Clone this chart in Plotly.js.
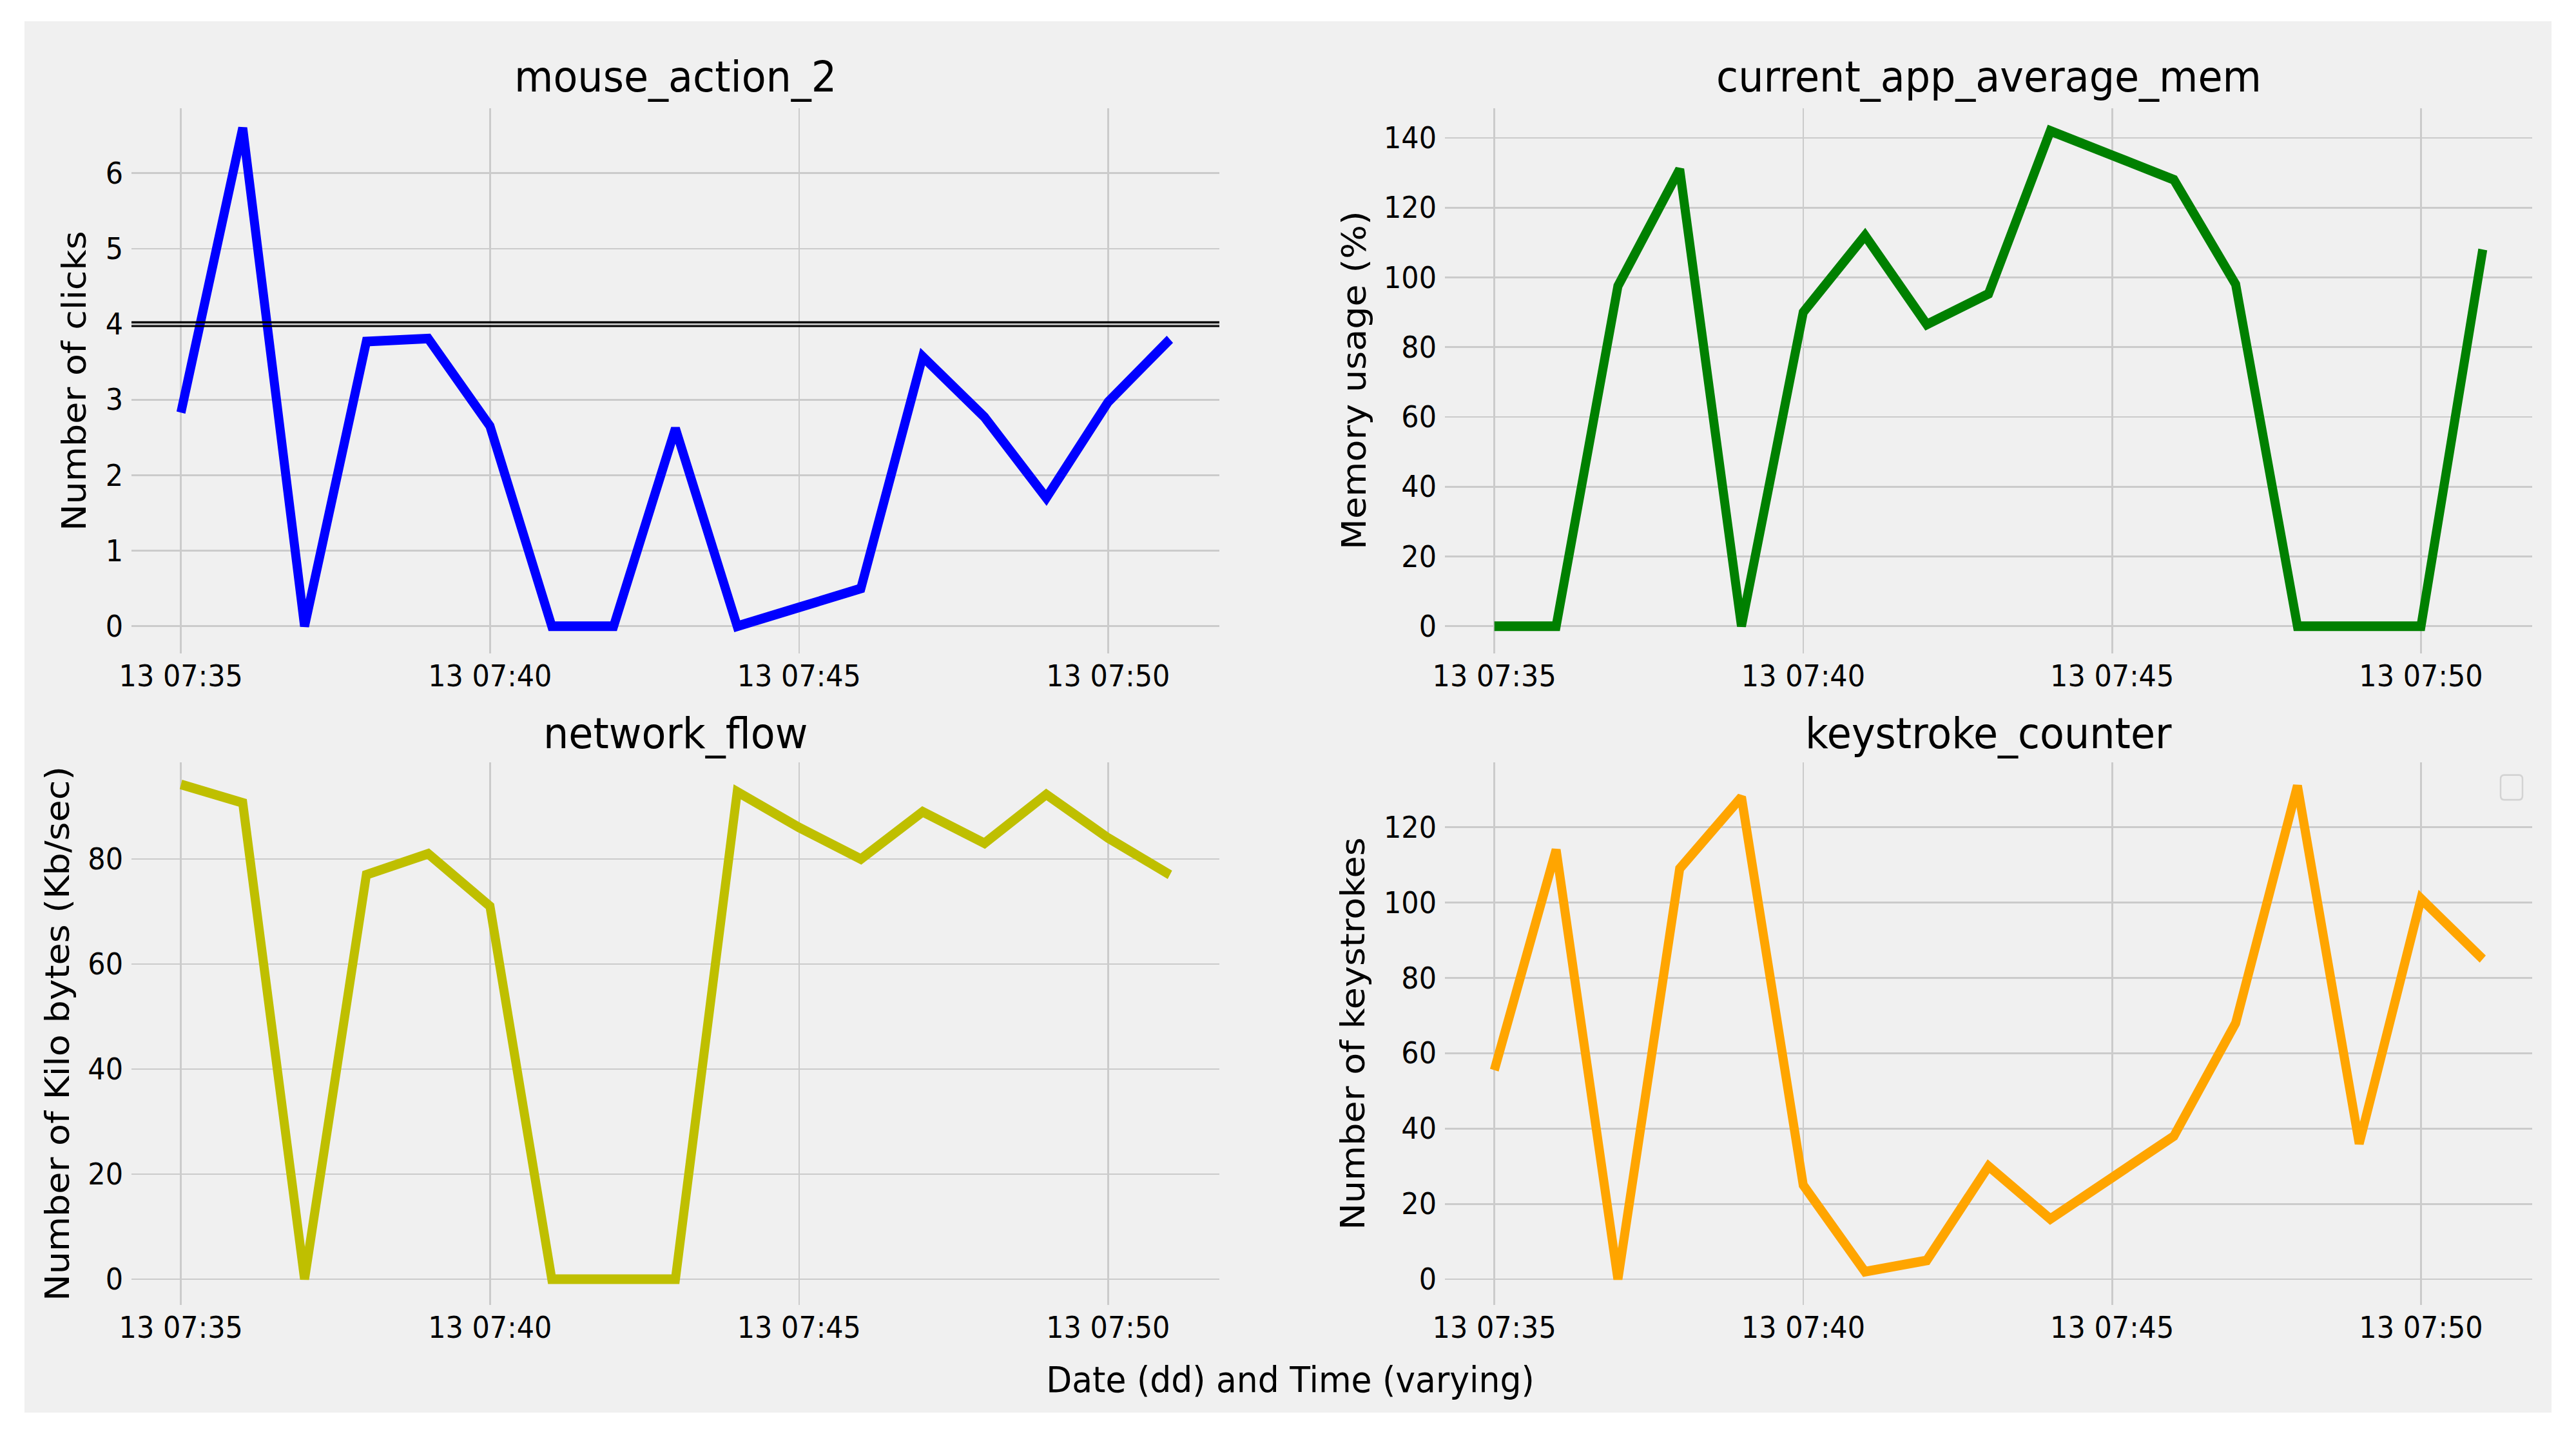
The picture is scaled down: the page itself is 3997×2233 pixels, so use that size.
<!DOCTYPE html>
<html>
<head>
<meta charset="utf-8">
<script src="https://cdn.plot.ly/plotly-3.0.1.min.js"></script>
<style>
  html, body { margin: 0; padding: 0; background: #ffffff; overflow: hidden; }
  /* the reference is a little stretched vertically, so draw short and scale up */
  #wrap { width: 3997px; height: 2233px; overflow: hidden; }
  #plot { width: 3997px; height: 2087px; transform: scale(1, 1.06996); transform-origin: 0 0; }
</style>
</head>
<body>
<div id="wrap"><div id="plot"></div></div>
<script>
/* Data */
let times = [
  "2023-01-13 07:35", "2023-01-13 07:36", "2023-01-13 07:37", "2023-01-13 07:38",
  "2023-01-13 07:39", "2023-01-13 07:40", "2023-01-13 07:41", "2023-01-13 07:42",
  "2023-01-13 07:43", "2023-01-13 07:44", "2023-01-13 07:45", "2023-01-13 07:46",
  "2023-01-13 07:47", "2023-01-13 07:48", "2023-01-13 07:49", "2023-01-13 07:50",
  "2023-01-13 07:51"
];
let mouseClicks = [2.83, 6.6, 0, 3.77, 3.81, 2.65, 0, 0, 2.62, 0, 0.25, 0.5, 3.57, 2.77, 1.7, 2.97, 3.8];
let mouseRefLines = [3.975, 4.025];
let memUsage = [0, 0, 97.5, 131, 0, 90, 112, 86.5, 95.3, 142, 135, 128, 98, 0, 0, 0, 108];
let netFlow = [94.2, 90.7, 0, 77, 81, 71, 0, 0, 0, 92.8, 86, 80, 89, 83, 92.3, 84, 77];
let keystrokes = [55.5, 114, 0, 109, 128, 25, 2, 5, 30, 16, 27, 38, 68, 131, 36, 101, 85];

let tickVals = ["2023-01-13 07:35", "2023-01-13 07:40", "2023-01-13 07:45", "2023-01-13 07:50"];
let tickText = ["13 07:35", "13 07:40", "13 07:45", "13 07:50"];
let xRange = ["2023-01-13 07:34:12", "2023-01-13 07:51:48"];

let panelTitles = ["mouse_action_2", "current_app_average_mem", "network_flow", "keystroke_counter"];
let yLabels = ["Number of clicks", "Memory usage (%)", "Number of Kilo bytes (Kb/sec)", "Number of keystrokes"];
let xLabel = "Date (dd) and Time (varying)";

const FONT = "DejaVu Sans";
const BG = "#f0f0f0";
const GRID = "#cbcbcb";

// Common axis styling (fivethirtyeight-like: grid, no spines, no ticks)
function xAxis(domain, anchor) {
  return {
    domain: domain, anchor: anchor, type: "date", range: xRange,
    tickvals: tickVals, ticktext: tickText,
    showgrid: true, gridcolor: GRID, gridwidth: 2.6,
    zeroline: false, showline: false, ticks: "",
    ticklabelstandoff: 4,
    tickfont: { family: FONT, size: 43, color: "#000" }
  };
}

function yAxis(domain, anchor, range, dtick) {
  return {
    domain: domain, anchor: anchor, range: range, dtick: dtick, tick0: 0,
    showgrid: true, gridcolor: GRID, gridwidth: 2.5,
    zeroline: false, showline: false, ticks: "",
    ticklabelstandoff: 12,
    tickfont: { family: FONT, size: 43, color: "#000" }
  };
}

function init() {
  let lineW = 14;
  let traces = [
    { x: times, y: mouseClicks, xaxis: "x", yaxis: "y", mode: "lines",
      line: { color: "#0000ff", width: lineW } },
    { x: times, y: memUsage, xaxis: "x2", yaxis: "y2", mode: "lines",
      line: { color: "#008000", width: lineW } },
    { x: times, y: netFlow, xaxis: "x3", yaxis: "y3", mode: "lines",
      line: { color: "#bfbf00", width: lineW } },
    { x: times, y: keystrokes, xaxis: "x4", yaxis: "y4", mode: "lines",
      line: { color: "#ffa500", width: lineW } }
  ];

  // axes placement (fractions of the drawing area)
  let xl = [0.05104, 0.47335], xr = [0.56092, 0.98299];
  let yt = [0.5459, 0.9248], yb = [0.0932, 0.4702];

  let shapes = [
    // light grey figure background with a thin white border
    { type: "rect", xref: "paper", yref: "paper", x0: 0.00951, x1: 0.99049, y0: 0.01835, y1: 0.98524,
      fillcolor: BG, line: { width: 0 }, layer: "below" },
    // empty legend frame in the last panel
    { type: "path", xref: "paper", yref: "paper", xsizemode: "pixel", ysizemode: "pixel",
      xanchor: 0.97073, yanchor: 0.44422,
      path: "M 6,0 L 28,0 Q 34,0 34,6 L 34,30 Q 34,36 28,36 L 6,36 Q 0,36 0,30 L 0,6 Q 0,0 6,0 Z",
      line: { color: "#d3d3d3", width: 2.5 }, fillcolor: "rgba(0,0,0,0)" }
  ];
  // two black reference lines in the first panel
  mouseRefLines.forEach(function(v) {
    shapes.push({ type: "line", xref: "x domain", yref: "y", x0: 0, x1: 1, y0: v, y1: v,
      line: { color: "#000", width: 3 } });
  });

  let annotations = [];
  let titleX = [0.2622, 0.77196, 0.2622, 0.77196];
  let titleY = [0.9465, 0.9465, 0.4904, 0.4904];
  panelTitles.forEach(function(t, i) {
    annotations.push({ text: t, xref: "paper", yref: "paper", x: titleX[i], y: titleY[i],
      xanchor: "center", yanchor: "middle", showarrow: false,
      font: { family: FONT, size: 62, color: "#000" } });
  });
  let labX = [0.02877, 0.52565, 0.02227, 0.52515];
  let labY = [0.7354, 0.7354, 0.2817, 0.2817];
  yLabels.forEach(function(t, i) {
    annotations.push({ text: t, xref: "paper", yref: "paper", x: labX[i], y: labY[i],
      xanchor: "center", yanchor: "middle", textangle: -90, showarrow: false,
      font: { family: FONT, size: 52, color: "#000" } });
  });
  annotations.push({ text: xLabel, xref: "paper", yref: "paper", x: 0.5009, y: 0.041,
    xanchor: "center", yanchor: "middle", showarrow: false,
    font: { family: FONT, size: 52, color: "#000" } });

  let layout = {
    width: 3997, height: 2087,
    margin: { l: 0, r: 0, t: 0, b: 0 },
    paper_bgcolor: "#ffffff",
    plot_bgcolor: BG,
    showlegend: false,
    font: { family: FONT, color: "#000" },
    xaxis: xAxis(xl, "y"),
    yaxis: yAxis(yt, "x", [-0.36, 6.86], 1),
    xaxis2: xAxis(xr, "y2"),
    yaxis2: yAxis(yt, "x2", [-7.8, 148.5], 20),
    xaxis3: xAxis(xl, "y3"),
    yaxis3: yAxis(yb, "x3", [-4.9, 98.4], 20),
    xaxis4: xAxis(xr, "y4"),
    yaxis4: yAxis(yb, "x4", [-6.8, 137.2], 20),
    shapes: shapes,
    annotations: annotations
  };

  Plotly.newPlot("plot", traces, layout, { staticPlot: true });
}

window.onload = init;
</script>
</body>
</html>
